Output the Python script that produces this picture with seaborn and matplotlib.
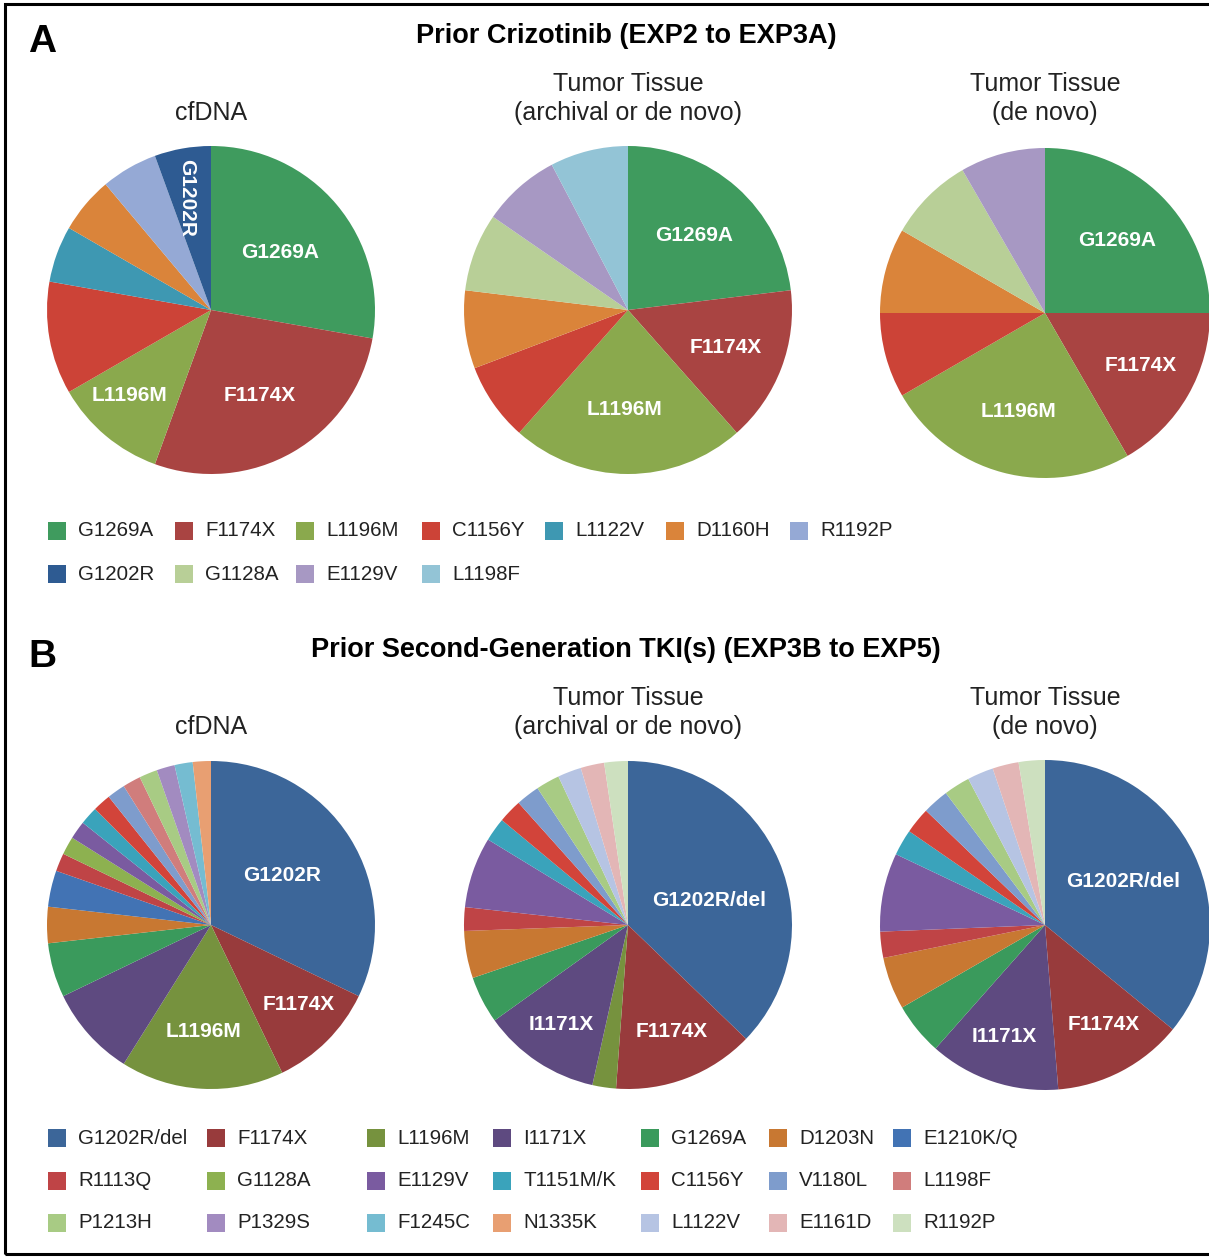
import matplotlib
matplotlib.use("Agg")
import matplotlib.pyplot as plt
import seaborn as sns
import numpy as np
from matplotlib.patches import Rectangle

sns.set_theme(style="white")
plt.rcParams['font.family'] = ['Liberation Sans', 'DejaVu Sans']

# ---------------- Panel A: prior crizotinib ----------------
a_mutations = ["G1269A", "F1174X", "L1196M", "C1156Y", "L1122V", "D1160H",
               "R1192P", "G1202R", "G1128A", "E1129V", "L1198F"]
a_colors = ["#3f9b5e", "#a94442", "#8aa94d", "#cc4337", "#3e98b2", "#da843a",
            "#95a9d5", "#2e5b92", "#b8cf97", "#a798c3", "#93c4d6"]
a_cfdna = [5, 5, 2, 2, 1, 1, 1, 1, 0, 0, 0]
a_tissue = [3, 2, 3, 1, 0, 1, 0, 0, 1, 1, 1]
a_denovo = [3, 2, 3, 1, 0, 1, 0, 0, 1, 1, 0]

# ---------------- Panel B: prior second-generation TKI(s) ----------------
b_mutations = ["G1202R/del", "F1174X", "L1196M", "I1171X", "G1269A", "D1203N",
               "E1210K/Q", "R1113Q", "G1128A", "E1129V", "T1151M/K", "C1156Y",
               "V1180L", "L1198F", "P1213H", "P1329S", "F1245C", "N1335K",
               "L1122V", "E1161D", "R1192P"]
b_colors = ["#3c6699", "#983b3c", "#76923e", "#5e4a80", "#3a9a5c", "#c87832",
            "#4273b4", "#bf4446", "#8db150", "#7a5ba0", "#3aa3bb", "#d2443a",
            "#7e9ccc", "#d07d7c", "#a8cb84", "#a28bc0", "#75bcd1", "#e89f72",
            "#b6c4e3", "#e3b6b6", "#cde0bf"]
b_cfdna = [18, 6, 9, 5, 3, 2, 2, 1, 1, 1, 1, 1, 1, 1, 1, 1, 1, 1, 0, 0, 0]
b_tissue = [16, 6, 1, 5, 2, 2, 0, 1, 0, 3, 1, 1, 1, 0, 1, 0, 0, 0, 1, 1, 1]
b_denovo = [14, 5, 0, 5, 2, 2, 0, 1, 0, 3, 1, 1, 1, 0, 1, 0, 0, 0, 1, 1, 1]

W, H = 1209, 1258
fig = plt.figure(figsize=(W / 100, H / 100), dpi=100)
fig.patch.set_facecolor("white")


def fx(px):
    return px / W


def fy(py):
    return 1 - py / H


def draw_pie(cx, cy, r, values, names, colors, labels):
    ax = fig.add_axes([fx(cx - r), fy(cy + r), 2 * r / W, 2 * r / H])
    keep = [i for i, v in enumerate(values) if v > 0]
    vals = [values[i] for i in keep]
    cols = [colors[i] for i in keep]
    nms = [names[i] for i in keep]
    wedges, _ = ax.pie(vals, colors=cols, startangle=90, counterclock=False,
                       radius=1, wedgeprops=dict(linewidth=0))
    for w, n in zip(wedges, nms):
        if n in labels:
            spec = labels[n]
            frac, ang, rot = spec[:3]
            text = spec[3] if len(spec) > 3 else n
            if ang is None:
                ang = 0.5 * (w.theta1 + w.theta2)
            t = np.deg2rad(ang)
            ax.text(frac * np.cos(t), frac * np.sin(t), text, color="white",
                    fontsize=15, fontweight="bold", ha="center", va="center",
                    rotation=rot)
    ax.set_xlim(-1.0, 1.0)
    ax.set_ylim(-1.0, 1.0)
    ax.set_aspect("equal")
    ax.axis("off")
    return ax


def header(letter, title, ly, ty, sy):
    fig.text(fx(28), fy(ly), letter, fontsize=28, fontweight="bold",
             ha="left", va="center", color="black")
    fig.text(fx(626), fy(ty), title, fontsize=19.5, fontweight="bold",
             ha="center", va="center", color="black")
    fig.text(fx(211), fy(sy + 29), "cfDNA", fontsize=18, ha="center",
             va="center", color="#222222")
    fig.text(fx(628), fy(sy), "Tumor Tissue", fontsize=18, ha="center",
             va="center", color="#222222")
    fig.text(fx(628), fy(sy + 29), "(archival or de novo)", fontsize=18,
             ha="center", va="center", color="#222222")
    fig.text(fx(1045), fy(sy), "Tumor Tissue", fontsize=18, ha="center",
             va="center", color="#222222")
    fig.text(fx(1045), fy(sy + 29), "(de novo)", fontsize=18, ha="center",
             va="center", color="#222222")


def legend(names, colors, xs, ys):
    ncol = len(xs)
    for i, (n, c) in enumerate(zip(names, colors)):
        x = xs[i % ncol]
        y = ys[i // ncol]
        fig.add_artist(Rectangle((fx(x), fy(y + 9)), 18 / W, 18 / H,
                                 transform=fig.transFigure, facecolor=c,
                                 edgecolor="none"))
        fig.text(fx(x + 30), fy(y), n, fontsize=14.8, ha="left", va="center",
                 color="#222222")


# Panel A
header("A", "Prior Crizotinib (EXP2 to EXP3A)", 42, 36, 84)
draw_pie(211, 310, 164, a_cfdna, a_mutations, a_colors,
         {"G1269A": (0.55, None, 0), "F1174X": (0.6, -60.5, 0),
          "L1196M": (0.72, -133.5, 0), "G1202R": (0.70, 102.5, -90)})
draw_pie(628, 310, 164, a_tissue, a_mutations, a_colors,
         {"G1269A": (0.61, None, 0), "F1174X": (0.64, None, 0),
          "L1196M": (0.61, -92, 0)})
draw_pie(1045, 313, 165, a_denovo, a_mutations, a_colors,
         {"G1269A": (0.62, None, 0), "F1174X": (0.66, -29, 0),
          "L1196M": (0.615, None, 0)})
legend(a_mutations, a_colors, [48, 175, 296, 422, 545, 666, 790], [531, 574])

# Panel B
header("B", "Prior Second-Generation TKI(s) (EXP3B to EXP5)", 657, 650, 698)
draw_pie(211, 925, 164, b_cfdna, b_mutations, b_colors,
         {"G1202R/del": (0.53, 35, 0, "G1202R"), "F1174X": (0.72, -42, 0),
          "L1196M": (0.65, -94, 0)})
draw_pie(628, 925, 164, b_tissue, b_mutations, b_colors,
         {"G1202R/del": (0.52, 17, 0), "F1174X": (0.70, -67.5, 0),
          "I1171X": (0.73, -124, 0)})
draw_pie(1045, 925, 165, b_denovo, b_mutations, b_colors,
         {"G1202R/del": (0.54, 29, 0), "F1174X": (0.70, -59.5, 0),
          "I1171X": (0.72, -110, 0)})
legend(b_mutations, b_colors, [48, 207, 367, 493, 641, 769, 893],
       [1138, 1181, 1223])

# Outer frame
fig.add_artist(Rectangle((fx(5), fy(1254)), 1215 / W, 1250 / H,
                         transform=fig.transFigure, facecolor="none",
                         edgecolor="black", linewidth=2.2))

fig.savefig("out.png", dpi=100, facecolor="white")
